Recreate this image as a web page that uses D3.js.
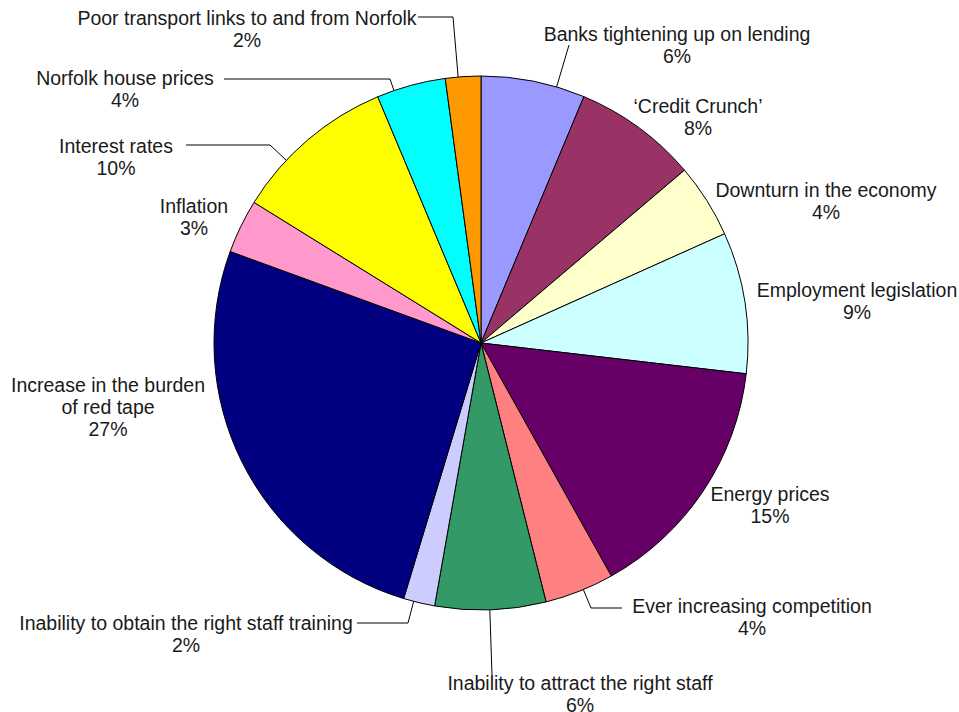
<!DOCTYPE html>
<html>
<head>
<meta charset="utf-8">
<title>Pie chart</title>
<script src="https://d3js.org/d3.v7.min.js"></script>
<style>
  body { margin: 0; background: #fff; }
  svg text { font-family: "Liberation Sans", Arial, sans-serif; font-size: 19.5px; fill: #1a1a1a; }
</style>
</head>
<body>
<svg width="959" height="712"></svg>
<script>
// data, clockwise from 12 o'clock
const categories = [
  "Banks tightening up on lending", "'Credit Crunch'", "Downturn in the economy",
  "Employment legislation", "Energy prices", "Ever increasing competition",
  "Inability to attract the right staff", "Inability to obtain the right staff training",
  "Increase in the burden of red tape", "Inflation", "Interest rates",
  "Norfolk house prices", "Poor transport links to and from Norfolk"
];
const shares = [6.3, 7.5, 4.5, 8.55, 15.05, 4.2, 6.7, 1.9, 25.9, 3.26, 9.86, 4.18, 2.14];
const pctLabels = [6, 8, 4, 9, 15, 4, 6, 2, 27, 3, 10, 4, 2];
const colors = ["#9999ff", "#993366", "#ffffcc", "#ccffff", "#660066", "#ff8080",
  "#339966", "#ccccff", "#000080", "#ff99cc", "#ffff00", "#00ffff", "#ff9900"];

// label layout: text centre, first baseline, optional leader (start point, elbow)
const layout = [
  { x: 677, y: 41, elbow: [569, 45] },
  { x: 698, y: 113, text: ["\u2018Credit Crunch\u2019"] },
  { x: 826, y: 197 },
  { x: 857, y: 297 },
  { x: 770, y: 501 },
  { x: 752, y: 613, start: [622, 608], elbow: [591, 608] },
  { x: 580, y: 690, elbow: [492, 675] },
  { x: 186, y: 630, start: [357, 623], elbow: [408, 623] },
  { x: 108, y: 392, text: ["Increase in the burden", "of red tape"] },
  { x: 194, y: 213 },
  { x: 116, y: 153, start: [186, 145], elbow: [270, 145] },
  { x: 125, y: 85, start: [224, 79], elbow: [390, 79] },
  { x: 247, y: 25, start: [418, 17], elbow: [453, 17] }
];

const cx = 481, cy = 343, radius = 267, lineH = 22;
const svg = d3.select("svg");
const chart = svg.append("g").attr("transform", `translate(${cx}, ${cy})`);

const pie = d3.pie().sort(null).value(d => d.value);
const arc = d3.arc().innerRadius(0).outerRadius(radius);

const data = categories.map((c, i) => ({ name: c, value: shares[i], pct: pctLabels[i], color: colors[i], lay: layout[i] }));

chart.selectAll("path.slice")
  .data(pie(data))
  .enter()
  .append("path")
  .attr("class", "slice")
  .attr("d", arc)
  .attr("fill", d => d.data.color)
  .attr("stroke", "#000")
  .attr("stroke-width", 1)
  .attr("stroke-linejoin", "round");

// leader lines: start -> elbow -> pie edge (pointing to the centre)
data.forEach(d => {
  const l = d.lay;
  if (!l.elbow) return;
  const ex = l.elbow[0] - cx, ey = l.elbow[1] - cy;
  const len = Math.hypot(ex, ey);
  const pts = [];
  if (l.start) pts.push([l.start[0] - cx, l.start[1] - cy]);
  pts.push([ex, ey]);
  pts.push([ex * radius / len, ey * radius / len]);
  chart.append("path")
    .attr("d", d3.line()(pts))
    .attr("fill", "none")
    .attr("stroke", "#000")
    .attr("stroke-width", 1);
});

// labels
data.forEach(d => {
  const l = d.lay;
  const lines = (l.text || [d.name]).concat([d.pct + "%"]);
  const t = svg.append("text")
    .attr("text-anchor", "middle")
    .attr("x", l.x)
    .attr("y", l.y);
  lines.forEach((s, j) => {
    t.append("tspan")
      .attr("x", l.x)
      .attr("y", l.y + j * lineH)
      .text(s);
  });
});
</script>
</body>
</html>
